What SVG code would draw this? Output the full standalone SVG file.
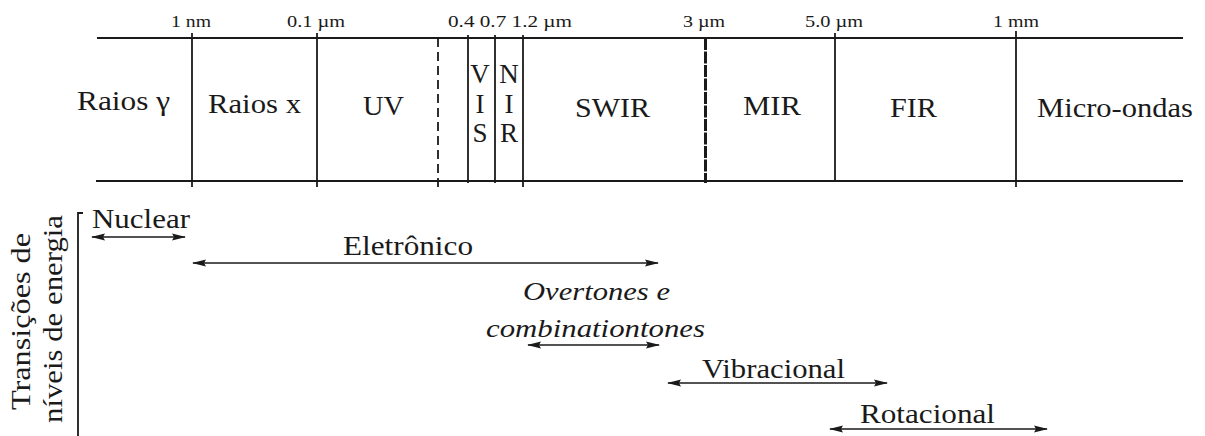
<svg xmlns="http://www.w3.org/2000/svg" width="1205" height="436" viewBox="0 0 1205 436">
<defs>
<style>
text{fill:#1a1a1a;font-family:'Liberation Serif','Times New Roman',serif}
.tick{font-size:17px}
.reg{font-size:27px}
.lbl{font-size:27px}
.it{font-size:25px;font-style:italic}
.ln{stroke:#1a1a1a;stroke-width:1.8;fill:none}
.arr{stroke:#1a1a1a;stroke-width:1.7;fill:none;marker-start:url(#ah);marker-end:url(#ah)}
</style>
<marker id="ah" viewBox="0 0 14 8" refX="13" refY="4" markerWidth="14" markerHeight="8" markerUnits="userSpaceOnUse" orient="auto-start-reverse">
<path d="M0,0.5 L14,4 L0,7.5 L2,4 Z" fill="#1a1a1a"/>
</marker>
</defs>
<rect width="1205" height="436" fill="#fff"/>

<g id="spectrum-frame">
<line class="ln" x1="97" y1="38" x2="1183" y2="38"/>
<line class="ln" x1="96" y1="181" x2="1183" y2="181"/>
<line class="ln" x1="192" y1="33" x2="192" y2="187"/>
<line class="ln" x1="317" y1="33" x2="317" y2="187"/>
<line class="ln" x1="438" y1="38" x2="438" y2="187" style="stroke-dasharray:9 5"/>
<line class="ln" x1="468" y1="35" x2="468" y2="183"/>
<line class="ln" x1="495" y1="35" x2="495" y2="183"/>
<line class="ln" x1="523" y1="35" x2="523" y2="187"/>
<line class="ln" x1="705.5" y1="38" x2="705.5" y2="183" style="stroke-width:3;stroke-dasharray:12 1.5"/>
<line class="ln" x1="835" y1="33" x2="835" y2="182"/>
<line class="ln" x1="1016" y1="31" x2="1016" y2="187"/>
</g>

<g id="ticks">
<text class="tick" x="171" y="27" textLength="40" lengthAdjust="spacingAndGlyphs">1 nm</text>
<text class="tick" x="287" y="27" textLength="58" lengthAdjust="spacingAndGlyphs">0.1 µm</text>
<text class="tick" x="448" y="27" textLength="124" lengthAdjust="spacingAndGlyphs">0.4 0.7 1.2 µm</text>
<text class="tick" x="683" y="27" textLength="42" lengthAdjust="spacingAndGlyphs">3 µm</text>
<text class="tick" x="805" y="27" textLength="58" lengthAdjust="spacingAndGlyphs">5.0 µm</text>
<text class="tick" x="993" y="27" textLength="46" lengthAdjust="spacingAndGlyphs">1 mm</text>
</g>

<g id="region-gamma"><text class="reg" x="77" y="110" textLength="93" lengthAdjust="spacingAndGlyphs">Raios γ</text></g>
<g id="region-x"><text class="reg" x="208" y="113" textLength="93" lengthAdjust="spacingAndGlyphs">Raios x</text></g>
<g id="region-uv"><text class="reg" x="363" y="115" textLength="41" lengthAdjust="spacingAndGlyphs">UV</text></g>
<g id="region-vis">
<text class="reg" x="480" y="83" text-anchor="middle">V</text>
<text class="reg" x="480" y="113" text-anchor="middle">I</text>
<text class="reg" x="480" y="142" text-anchor="middle">S</text>
</g>
<g id="region-nir">
<text class="reg" x="509" y="83" text-anchor="middle">N</text>
<text class="reg" x="509" y="113" text-anchor="middle">I</text>
<text class="reg" x="509" y="142" text-anchor="middle">R</text>
</g>
<g id="region-swir"><text class="reg" x="575" y="117" textLength="75" lengthAdjust="spacingAndGlyphs">SWIR</text></g>
<g id="region-mir"><text class="reg" x="743" y="115" textLength="58" lengthAdjust="spacingAndGlyphs">MIR</text></g>
<g id="region-fir"><text class="reg" x="890" y="117" textLength="47" lengthAdjust="spacingAndGlyphs">FIR</text></g>
<g id="region-micro"><text class="reg" x="1037" y="117" textLength="156" lengthAdjust="spacingAndGlyphs">Micro-ondas</text></g>

<g id="axis-label">
<text class="lbl" transform="translate(30,410) rotate(-90)" textLength="177" lengthAdjust="spacingAndGlyphs">Transições de</text>
<text class="lbl" transform="translate(62,423) rotate(-90)" textLength="208" lengthAdjust="spacingAndGlyphs">níveis de energia</text>
<path class="ln" d="M83,213 L78,213 L78,436"/>
</g>

<g id="nuclear"><text class="lbl" x="92" y="228" textLength="98" lengthAdjust="spacingAndGlyphs">Nuclear</text></g>
<g id="eletronico"><text class="lbl" x="343" y="255" textLength="130" lengthAdjust="spacingAndGlyphs">Eletrônico</text></g>
<g id="overtones">
<text class="it" x="523" y="300" textLength="147" lengthAdjust="spacingAndGlyphs">Overtones e</text>
<text class="it" x="486" y="337" textLength="219" lengthAdjust="spacingAndGlyphs">combinationtones</text>
</g>
<g id="vibracional"><text class="lbl" x="702" y="378" textLength="143" lengthAdjust="spacingAndGlyphs">Vibracional</text></g>
<g id="rotacional"><text class="lbl" x="860" y="423" textLength="135" lengthAdjust="spacingAndGlyphs">Rotacional</text></g>

<g id="connectors">
<line class="arr" x1="92" y1="237" x2="185" y2="237"/>
<line class="arr" x1="193" y1="263" x2="658" y2="263"/>
<line class="arr" x1="528" y1="345" x2="659" y2="345"/>
<line class="arr" x1="668" y1="383" x2="887" y2="383"/>
<line class="arr" x1="830" y1="429" x2="1047" y2="429"/>
</g>
</svg>
